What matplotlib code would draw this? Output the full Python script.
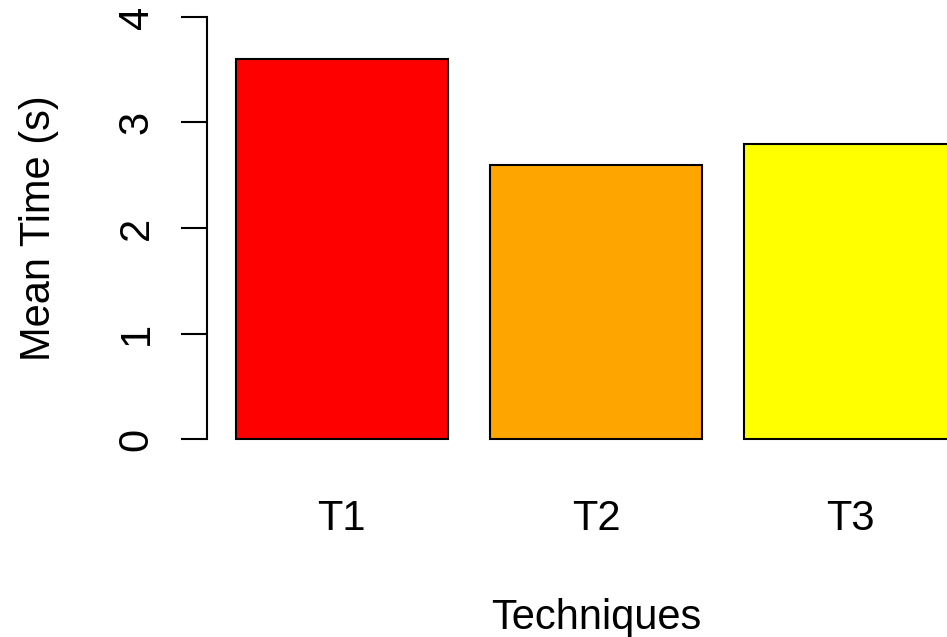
import matplotlib
matplotlib.use('Agg')
import matplotlib.pyplot as plt

techniques = ['T1', 'T2', 'T3']
mean_time = [3.6, 2.6, 2.8]
bar_colors = ['#FF0000', '#FFA500', '#FFFF00']
y_ticks = [0, 1, 2, 3, 4]

plt.rcParams['font.family'] = ['Liberation Sans', 'DejaVu Sans']

W, H = 947, 637
fig = plt.figure(figsize=(W / 100, H / 100), dpi=100)
# plot region runs off the right edge like the original R device crop
ax = fig.add_axes([207 / W, 1 - 456 / H, 778 / W, 456 / H])

# R barplot layout: width 1, space 0.2
centers = [0.7 + 1.2 * i for i in range(len(techniques))]
ax.bar(centers, mean_time, width=1.0, color=bar_colors, edgecolor='black', linewidth=1.5)

ax.set_xlim(0.064, 3.736)
ax.set_ylim(-0.16, 4.16)

for side in ['top', 'right', 'bottom']:
    ax.spines[side].set_visible(False)
ax.spines['left'].set_bounds(0, 4)
ax.spines['left'].set_linewidth(1.5)

ax.set_yticks(y_ticks)
ax.set_yticklabels([str(t) for t in y_ticks], rotation=90, va='center', ha='center')
ax.tick_params(axis='y', length=18.7, width=1.5, pad=32, labelsize=30)

ax.set_xticks(centers)
ax.set_xticklabels(techniques)
ax.tick_params(axis='x', length=0, pad=31, labelsize=30)

ax.set_xlabel('Techniques', fontsize=30, va='top')
ax.xaxis.set_label_coords(0.5, -0.311)
ax.set_ylabel('Mean Time (s)', fontsize=30)
ax.yaxis.set_label_coords(-0.190, 0.5)

fig.savefig('out.png', dpi=100)
